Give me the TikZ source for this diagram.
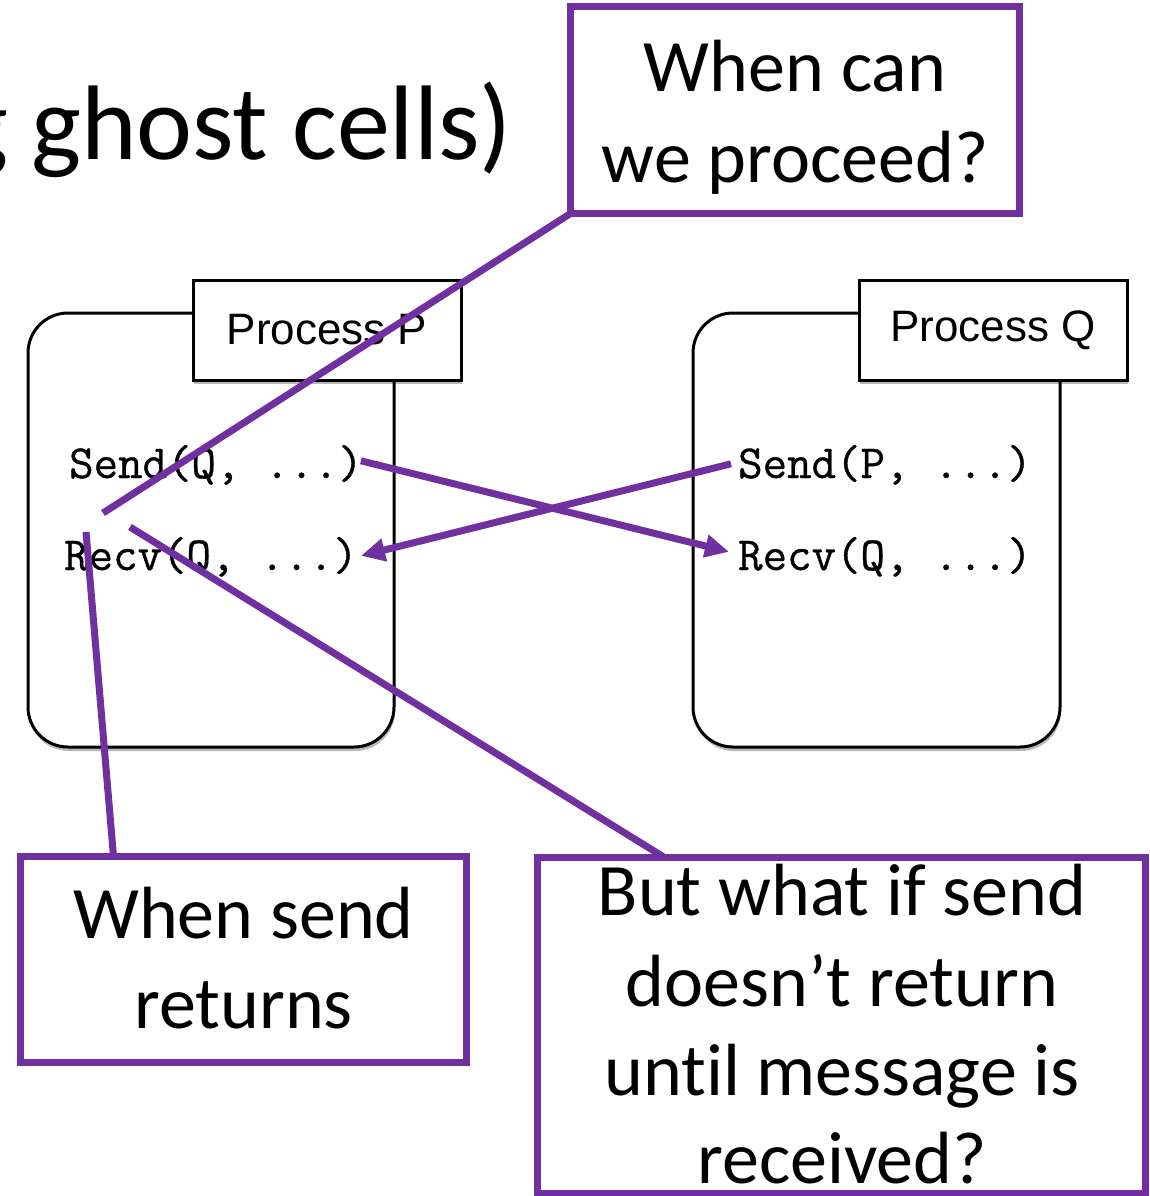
\documentclass[tikz,border=0pt]{standalone}
\usepackage{fontspec}
\setmainfont{Carlito}[Ligatures=NoCommon]
\newfontfamily\helv{Liberation Sans}
\newfontfamily\codefont{Latin Modern Mono}[FakeBold=0.8]
\usetikzlibrary{arrows.meta,shadows}
\definecolor{callpurple}{RGB}{112,48,160}

\begin{document}
\begin{tikzpicture}[x=1pt,y=-1pt,
  softshadow/.style={drop shadow={shadow xshift=1pt, shadow yshift=-4pt, opacity=0.28, fill=black}},
  procbox/.style={draw=black, line width=3pt, fill=white, rounded corners=40pt, softshadow},
  tagbox/.style={draw=black, line width=3pt, fill=white, inner sep=0pt, softshadow,
    font=\helv\fontsize{44}{44}\selectfont},
  code/.style={inner sep=0pt, anchor=base west, font=\codefont\fontsize{47.5}{47.5}\selectfont},
  msg/.style={draw=callpurple, line width=7pt, -{Triangle[length=24pt,width=22pt]}},
  pointer/.style={draw=callpurple, line width=7pt},
  callout/.style={draw=callpurple, line width=7pt, fill=white, inner sep=0pt},
  calltext/.style={inner sep=0pt, anchor=base, font=\fontsize{74}{89}\selectfont},
  titletext/.style={inner sep=0pt, font=\fontsize{106}{106}\selectfont},
]
\useasboundingbox (0,0) rectangle (1150,1196);
\clip (0,0) rectangle (1150,1196);
\fill[white] (0,0) rectangle (1150,1196);

% slide title, running off the left edge
\node[titletext, anchor=base west] (title) at (31,160) {ghost cells)};
\node[titletext, anchor=base east] (titlecut) at ([xshift=-22pt]title.base west) {g};

% process P
\draw[procbox] (28,313) rectangle (394,747);
\node[tagbox, minimum width=268pt, minimum height=100pt] (tagP) at (327,330) {Process P};
\node[code] (sendP) at (69,478) {Send(Q, ...)};
\node[code] (recvP) at (64,570) {Recv(Q, ...)};

% process Q
\draw[procbox] (693,313) rectangle (1060,747);
\node[tagbox, minimum width=268pt, minimum height=100pt] (tagQ) at (993,330) {Process Q};
\node[code] (sendQ) at (738,478) {Send(P, ...)};
\node[code] (recvQ) at (738,570) {Recv(Q, ...)};

% messages
\draw[msg] ([xshift=-2pt,yshift=4pt]sendP.east) -- ([xshift=-9pt,yshift=5pt]recvQ.west);
\draw[msg] ([xshift=-7pt,yshift=1pt]sendQ.west) -- ([xshift=3pt,yshift=1pt]recvP.east);

% points the callouts refer to
\coordinate (aimA) at (103,513);
\coordinate (aimB) at (86,532);
\coordinate (aimC) at (130,527);

% callout boxes (placed first so the pointers can be drawn from them)
\path (795,110) node[callout, minimum width=442pt, minimum height=200pt] (q1) {};
\path (243.5,959.5) node[callout, minimum width=439pt, minimum height=199pt] (q2) {};
\path (841.5,1025.5) node[callout, minimum width=601pt, minimum height=329pt] (q3) {};

% pointers
\draw[pointer] (q1.south west) -- (aimA);
\draw[pointer] ([xshift=93pt]q2.north west) -- (aimB);
\draw[pointer] ([xshift=127pt]q3.north west) -- (aimC);

% redraw the callout frames over the pointer ends
\draw[callout] (q1.south west) rectangle (q1.north east);
\draw[callout] (q2.south west) rectangle (q2.north east);
\draw[callout] (q3.south west) rectangle (q3.north east);

% callout texts
\node[calltext] (q1a) at (795,92) {When can};
\node[calltext] (q1b) at (795,182) {we proceed?};
\node[calltext] (q2a) at (243.5,938) {When send};
\node[calltext] (q2b) at (243.5,1028) {returns};
\node[calltext] (q3a) at (842,915) {But what if send};
\node[calltext] (q3b) at (842,1006) {doesn’t return};
\node[calltext] (q3c) at (842,1095) {until message is};
\node[calltext] (q3d) at (842,1183) {received?};
\end{tikzpicture}
\end{document}
